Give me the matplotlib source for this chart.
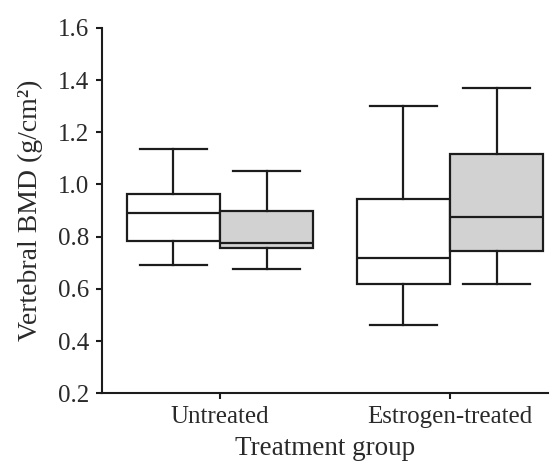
import matplotlib.pyplot as plt

plt.rcParams['font.family'] = ['Liberation Serif', 'DejaVu Serif']

# groups and boxes (white = first box, grey = second box in each group)
groups = ['Untreated', 'Estrogen-treated']
whislo = [0.69, 0.675, 0.46, 0.62]
q1 = [0.785, 0.755, 0.62, 0.745]
med = [0.89, 0.775, 0.72, 0.875]
q3 = [0.965, 0.90, 0.945, 1.115]
whishi = [1.135, 1.05, 1.30, 1.37]
fills = ['white', '#d2d2d2', 'white', '#d2d2d2']

line_c = '#1c1c1c'
lw = 1.6
bw = 0.405
offs = bw / 2

stats = []
for i in range(4):
    stats.append(dict(med=med[i], q1=q1[i], q3=q3[i],
                      whislo=whislo[i], whishi=whishi[i], fliers=[]))

positions = []
for g in range(len(groups)):
    positions += [g + 1 - offs, g + 1 + offs]

fig = plt.figure(figsize=(5.57, 4.71), dpi=100)
ax = fig.add_axes([0.1826, 0.165, 0.8014, 0.7758])

bp = ax.bxp(stats, positions=positions, widths=bw, capwidths=[0.29] * 4,
            patch_artist=True, showfliers=False,
            boxprops=dict(edgecolor=line_c, linewidth=lw),
            medianprops=dict(color=line_c, linewidth=lw),
            whiskerprops=dict(color=line_c, linewidth=lw),
            capprops=dict(color=line_c, linewidth=lw))
for patch, c in zip(bp['boxes'], fills):
    patch.set_facecolor(c)

ax.set_xlim(0.486, 2.426)
ax.set_ylim(0.2, 1.6)
ax.set_yticks([0.2, 0.4, 0.6, 0.8, 1.0, 1.2, 1.4, 1.6])
ax.set_yticklabels(['0.2', '0.4', '0.6', '0.8', '1.0', '1.2', '1.4', '1.6'])
ax.set_xticks([1, 2])
ax.set_xticklabels(groups)

for s in ['top', 'right']:
    ax.spines[s].set_visible(False)
for s in ['left', 'bottom']:
    ax.spines[s].set_linewidth(1.5)
    ax.spines[s].set_color(line_c)

ax.tick_params(axis='both', length=4, width=1.5, color=line_c,
               labelsize=18, labelcolor='#2a2a2a', pad=5)
ax.tick_params(axis='x', pad=5)
ax.set_xlabel('Treatment group', fontsize=19.5, color='#2a2a2a', labelpad=6)
ax.set_ylabel('Vertebral BMD (g/cm²)', fontsize=20, color='#2a2a2a', labelpad=11)

fig.savefig('out.png', dpi=100)
